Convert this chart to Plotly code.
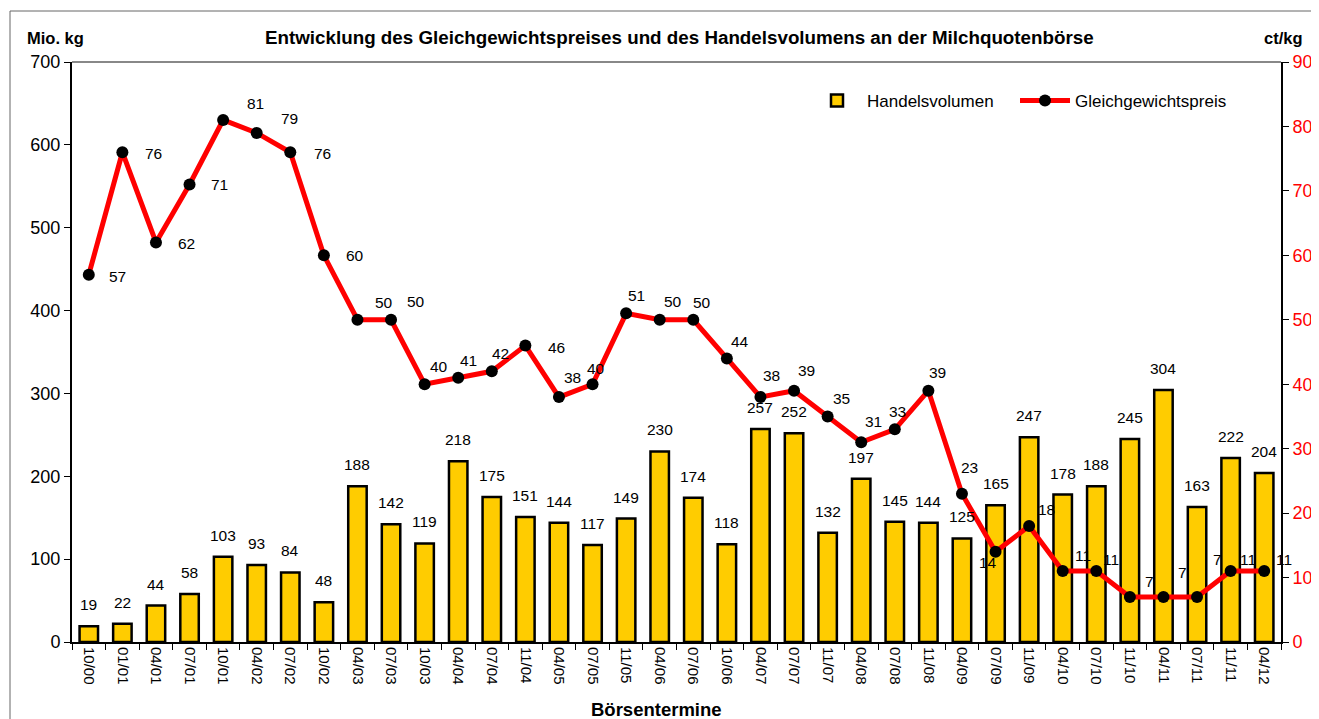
import plotly.graph_objects as go

categories = ["10/00","01/01","04/01","07/01","10/01","04/02","07/02","10/02","04/03","07/03",
              "10/03","04/04","07/04","11/04","04/05","07/05","11/05","04/06","07/06","10/06",
              "04/07","07/07","11/07","04/08","07/08","11/08","04/09","07/09","11/09","04/10",
              "07/10","11/10","04/11","07/11","11/11","04/12"]
volume = [19,22,44,58,103,93,84,48,188,142,119,218,175,151,144,117,149,230,174,118,
          257,252,132,197,145,144,125,165,247,178,188,245,304,163,222,204]
price = [57,76,62,71,81,79,76,60,50,50,40,41,42,46,38,40,51,50,50,44,
         38,39,35,31,33,39,23,14,18,11,11,7,7,7,11,11]

# label placement (screen pixel offsets from the marker: dx right, dy down)
price_label_offsets = [
    (29, 2), (31, 1), (31, 1), (30, 0), (32, -17), (33, -14), (32, 1), (31, 0),
    (27, -17), (25, -18), (14, -18), (10, -17), (9, -18), (31, 2), (14, -20), (3, -16),
    (10, -18), (13, -18), (9, -17), (13, -17), (11, -22), (12, -20), (14, -18), (12, -21),
    (3, -18), (9, -18), (8, -26), (-8, 11), (17, -17), (20, -16), (15, -12), (20, -15),
    (19, -24), (20, -37), (17, -12), (20, -12)]

FONT = "Liberation Sans, Arial, sans-serif"

# page geometry (the page body has an 8px margin)
OFF = 8
PAGE_W, PAGE_H = 1319, 719
L, R, T, B = 72, 1281, 62, 642   # plot area in page pixels


def px_x(x):
    return (x - L) / (R - L)


def px_y(y):
    return (B - y) / (B - T)


fig = go.Figure()
fig.add_trace(go.Bar(x=categories, y=volume, name="Handelsvolumen",
                     marker=dict(color="#FFCC00", line=dict(color="black", width=2.5)),
                     width=0.55, yaxis="y", legend="legend"))
fig.add_trace(go.Scatter(x=categories, y=price, name="Gleichgewichtspreis", mode="lines+markers",
                         line=dict(color="#FF0000", width=5),
                         marker=dict(color="black", size=12), yaxis="y2", legend="legend2"))

ann = []
for c, v in zip(categories, volume):
    ann.append(dict(x=c, y=v, xref="x", yref="y", text=str(v), showarrow=False,
                    yanchor="bottom", yshift=11, font=dict(size=15.5, color="black")))
for c, p, (dx, dy) in zip(categories, price, price_label_offsets):
    ann.append(dict(x=c, y=p, xref="x", yref="y2", text=str(p), showarrow=False,
                    xshift=dx, yshift=-dy, font=dict(size=15.5, color="black")))

free_texts = [
    ("<b>Mio. kg</b>", 55, 38, 16.5),
    ("<b>ct/kg</b>", 1283, 38, 16.5),
    ("<b>Entwicklung des Gleichgewichtspreises und des Handelsvolumens an der Milchquotenbörse</b>", 679, 38, 18.8),
    ("<b>Börsentermine</b>", 656, 709, 18.5),
]
for txt, x, y, s in free_texts:
    ann.append(dict(x=px_x(x), y=px_y(y), xref="paper", yref="paper", text=txt, showarrow=False,
                    xanchor="center", yanchor="middle", font=dict(size=s)))

shapes = [
    dict(type="rect", xref="paper", yref="paper", x0=px_x(10), x1=px_x(1340), y0=px_y(740), y1=px_y(11),
         line=dict(color="#666666", width=1), fillcolor="rgba(0,0,0,0)", layer="below"),
    dict(type="line", xref="paper", yref="paper", x0=0, x1=1, y0=1, y1=1,
         line=dict(color="#888888", width=2)),
]

legend_common = dict(orientation="h", xanchor="right", yanchor="top", font=dict(size=17),
                     bgcolor="rgba(0,0,0,0)", itemwidth=50)

fig.update_layout(
    width=PAGE_W - OFF, height=PAGE_H - OFF,
    margin=dict(l=L - OFF, r=PAGE_W - R, t=T - OFF, b=PAGE_H - B, autoexpand=False),
    paper_bgcolor="white", plot_bgcolor="white",
    font=dict(family=FONT, size=16, color="black"),
    showlegend=True,
    legend=dict(x=px_x(1007), y=px_y(83), entrywidth=135, **legend_common),
    legend2=dict(x=px_x(1240), y=px_y(83), entrywidth=160, **legend_common),
    xaxis=dict(type="category", range=[-0.5, len(categories) - 0.5], showline=True,
               linecolor="black", linewidth=2, automargin=False,
               ticks="outside", tickson="boundaries", ticklen=6, tickcolor="black",
               tickangle=90, showgrid=False, tickfont=dict(size=15)),
    yaxis=dict(range=[0, 700], dtick=100, showline=True, linecolor="black", linewidth=2,
               ticks="outside", ticklen=6, tickcolor="black", showgrid=False, zeroline=False,
               automargin=False, tickfont=dict(size=18)),
    yaxis2=dict(range=[0, 90], dtick=10, overlaying="y", side="right", showline=True,
                linecolor="black", linewidth=2, ticks="outside", ticklen=6, tickcolor="black",
                showgrid=False, zeroline=False, automargin=False,
                tickfont=dict(size=18, color="#FF0000")),
    annotations=ann, shapes=shapes,
)

fig.write_html("out.html")
